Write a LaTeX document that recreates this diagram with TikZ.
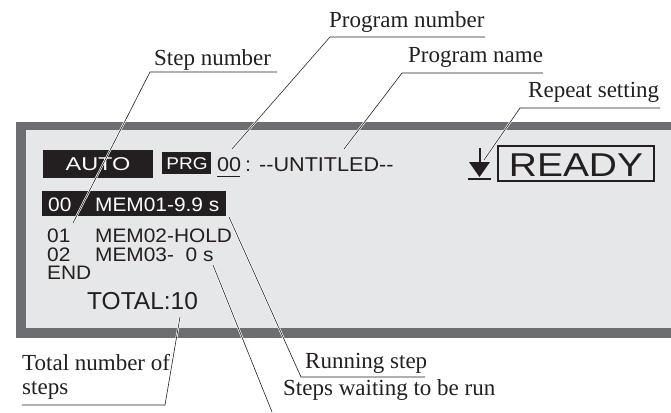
\documentclass[tikz,border=0pt]{standalone}
\usepackage{fontspec}
\usepackage{graphicx}
\setmainfont{Liberation Serif}
\setsansfont{Liberation Sans}

\definecolor{framegray}{HTML}{6D6E71}
\definecolor{lcdgray}{HTML}{E6E7E8}
\definecolor{ink}{HTML}{231F20}

\newcommand{\stretchx}[2]{\scalebox{#1}[1]{#2}}

\tikzset{
  lbl/.style={anchor=base west, inner sep=0pt, text=ink, font=\fontsize{23}{24}\selectfont},
  lcd/.style={anchor=base west, inner sep=0pt, text=ink, font=\sffamily\fontsize{19.5}{20}\selectfont},
  inv/.style={lcd, text=white},
  lead/.style={draw=ink, line width=0.6pt, preaction={draw=white, line width=2pt}}
}

\begin{document}
\begin{tikzpicture}[x=1pt, y=-1pt]
\useasboundingbox (0,0) rectangle (671,412);

% display panel
\fill[framegray] (16,122) rectangle (671,338);
\fill[lcdgray] (26,130) rectangle (671,328);

% top line
\fill[ink] (43,150) rectangle (153,178);
\node[inv, anchor=base] (auto) at (98,170) {\fontsize{18.5}{18}\selectfont\stretchx{1.27}{AUTO}};
\fill[ink] (162,152) rectangle (211,174);
\node[inv, anchor=base] (prg) at (187,169) {\fontsize{17}{17}\selectfont\stretchx{1.12}{PRG}};
\node[lcd] (prgnum) at (217,171) {\fontsize{20}{20}\selectfont\stretchx{1.08}{00}};
\draw[ink, line width=1pt] (217,176) -- (240,176);
\node[lcd] (prgname) at (245,171) {\fontsize{20}{20}\selectfont\stretchx{1.08}{: -{}-UNTITLED-{}-}};

% repeat symbol
\draw[ink, line width=1.2pt] (480,148) -- (480,163);
\fill[ink] (469,162) -- (490,162) -- (479.5,177) -- cycle;
\draw[ink, line width=1.5pt] (468,179) -- (491,179);
\draw[ink, line width=1.6pt] (498,146) rectangle (654,181);
\node[lcd, anchor=base] (ready) at (576,176) {\fontsize{33}{33}\selectfont\stretchx{1.18}{READY}};

% step list
\fill[ink] (42,191) rectangle (226,216);
\node[inv] (s0) at (48,211) {\stretchx{1.07}{00}};
\node[inv] (m0) at (95,211) {\stretchx{1.07}{MEM01-9.9 s}};
\node[lcd] (s1) at (47,242) {\stretchx{1.07}{01}};
\node[lcd] (m1) at (95,242) {\stretchx{1.07}{MEM02-HOLD}};
\node[lcd] (s2) at (47,261) {\stretchx{1.07}{02}};
\node[lcd] (m2) at (95,261) {\stretchx{1.07}{MEM03-\ \ 0 s}};
\node[lcd] (send) at (47,279) {\stretchx{1.07}{END}};
\node[lcd] (total) at (87,309) {\fontsize{24.5}{25}\selectfont TOTAL:10};

% labels
\node[lbl] (lstep) at (154,65) {Step number};
\node[lbl] (lprgnum) at (329,28) {Program number};
\node[lbl] (lprgname) at (408,63) {Program name};
\node[lbl] (lrepeat) at (528,97) {Repeat setting};
\node[lbl] (ltotal) at (22,370) {Total number of};
\node[lbl] (ltotal2) at (22,394) {steps};
\node[lbl] (lrun) at (305,368) {Running step};
\node[lbl] (lwait) at (283,395) {Steps waiting to be run};

% leader ends
\coordinate (stepA) at (150,72);  \coordinate (stepB) at (277,72);  \coordinate (stepT) at (73,223);
\coordinate (pnA) at (330,37);    \coordinate (pnB) at (485,37);    \coordinate (pnT) at (232,149);
\coordinate (pmA) at (402,73);    \coordinate (pmB) at (543,73);    \coordinate (pmT) at (344,149);
\coordinate (repA) at (520,108);  \coordinate (repB) at (660,108);  \coordinate (repT) at (484,160);
\coordinate (totA) at (22,405);   \coordinate (totB) at (165,405);  \coordinate (totT) at (180,317);
\coordinate (runA) at (301,377);  \coordinate (runB) at (425,377);  \coordinate (runT) at (229,217);
\coordinate (waitA) at (272,412); \coordinate (waitT) at (213,265);

\draw[lead] (stepT) -- (stepA) -- (stepB);
\draw[lead] (pnT) -- (pnA) -- (pnB);
\draw[lead] (pmT) -- (pmA) -- (pmB);
\draw[lead] (repT) -- (repA) -- (repB);
\draw[lead] (totT) -- (totB) -- (totA);
\draw[lead] (runT) -- (runA) -- (runB);
\draw[lead] (waitT) -- (waitA);
\end{tikzpicture}
\end{document}
